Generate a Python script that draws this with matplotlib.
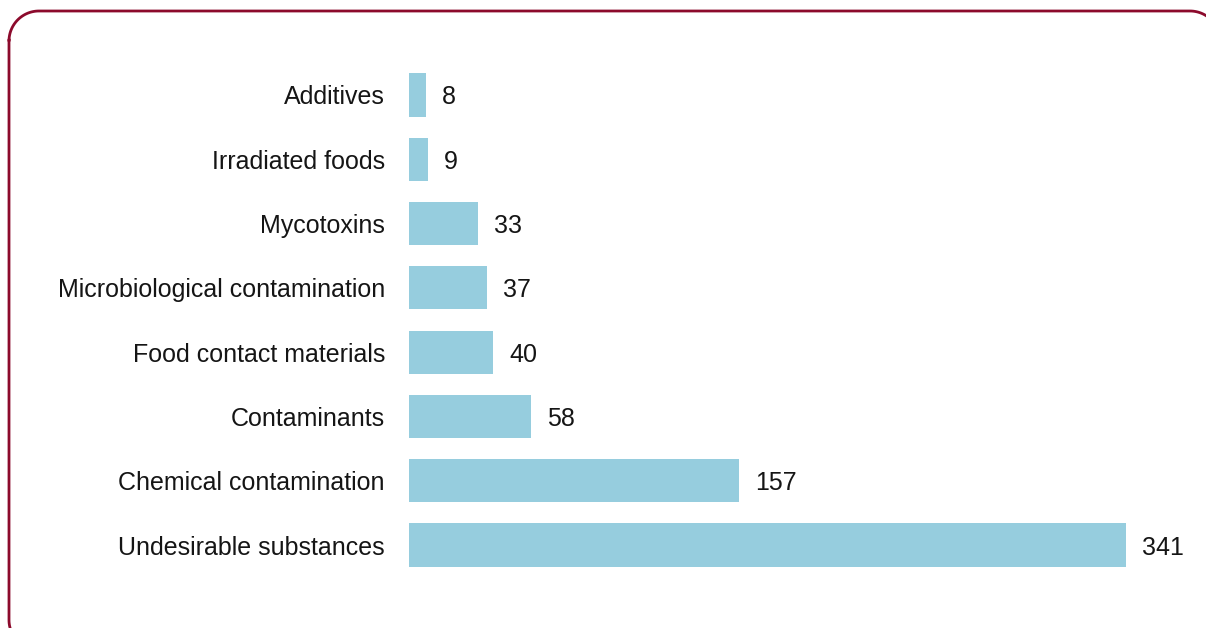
import matplotlib
matplotlib.use("Agg")
import numpy as np
import matplotlib.pyplot as plt

categories = ["Undesirable substances", "Chemical contamination", "Contaminants",
              "Food contact materials", "Microbiological contamination",
              "Mycotoxins", "Irradiated foods", "Additives"]
values = [341, 157, 58, 40, 37, 33, 9, 8]

W, H = 1206, 628
fig = plt.figure(figsize=(W / 100, H / 100), dpi=100)
plt.rcParams['font.family'] = ['Liberation Sans', 'DejaVu Sans']

# decorative rounded border drawn in a full-figure pixel-space axes
bg = fig.add_axes([0, 0, 1, 1], zorder=-1)
bg.set_xlim(0, W)
bg.set_ylim(H, 0)
bg.axis("off")
x0, x1, y0, y1, r = 9, 1220, 11, 650, 30
pts = []
for (cx, cy, a0, a1) in [(x0 + r, y0 + r, 180, 270), (x1 - r, y0 + r, 270, 360),
                         (x1 - r, y1 - r, 0, 90), (x0 + r, y1 - r, 90, 180)]:
    t = np.radians(np.linspace(a0, a1, 30))
    pts.append(np.column_stack([cx + r * np.cos(t), cy + r * np.sin(t)]))
pts = np.vstack(pts + [pts[0][:2]])
bg.plot(pts[:, 0], pts[:, 1], color="#8C0A2C", lw=2.0,
        solid_joinstyle="round", solid_capstyle="round")

left = 409 / W
width = 717 / W
bottom = (H - 577.15) / H
height = 514.3 / H
ax = fig.add_axes([left, bottom, width, height])
ax.patch.set_alpha(0)

FS = 18
ypos = list(range(len(categories)))
ax.barh(ypos, values, height=0.67, color="#96CDDE")
ax.set_xlim(0, 341)
ax.set_ylim(-0.5, len(categories) - 0.5)
for s in ax.spines.values():
    s.set_visible(False)
ax.set_xticks([])
ax.set_yticks(ypos)
ax.set_yticklabels(categories, fontsize=FS, color="#151515")
for lab in ax.get_yticklabels():
    lab.set_verticalalignment("center_baseline")
ax.tick_params(axis='y', length=0, pad=24 * 72 / 100)
for y, v in zip(ypos, values):
    ax.annotate(str(v), (v, y), xytext=(16, 0), textcoords="offset pixels",
                va="center_baseline", ha="left", fontsize=FS, color="#151515",
                annotation_clip=False)

fig.savefig("out.png", dpi=100)
